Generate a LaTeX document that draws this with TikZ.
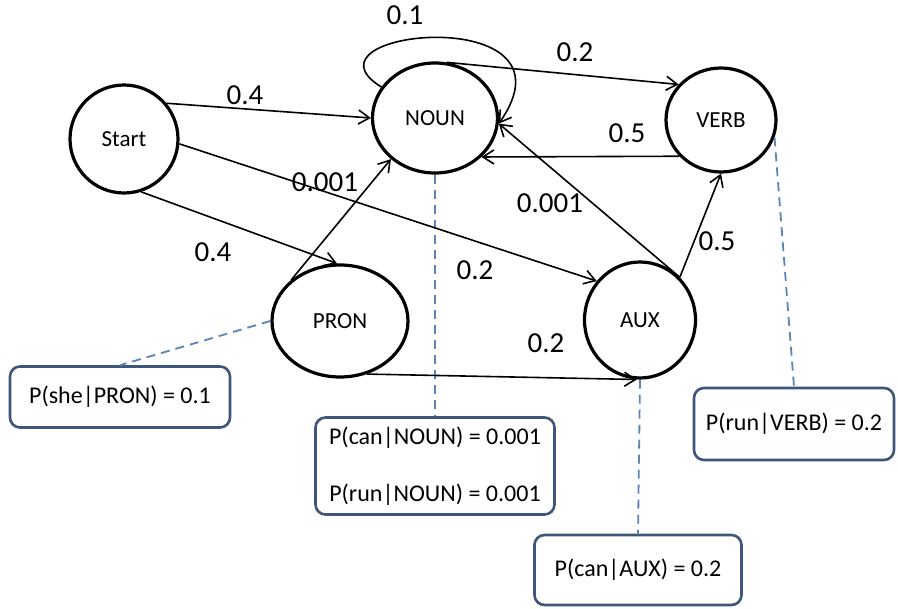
\documentclass[tikz,border=0pt]{standalone}
\usepackage{fontspec}
\setmainfont{Carlito}
\usetikzlibrary{arrows.meta,shapes.geometric}
\definecolor{boxblue}{HTML}{3E5679}
\definecolor{linkblue}{HTML}{5B84B8}

\begin{document}
\begin{tikzpicture}[
  x=1pt,
  y=-1pt,
  state/.style={
    draw,
    ellipse,
    line width=3.2pt,
    inner sep=0pt,
    font=\fontsize{23}{28}\selectfont
  },
  emit/.style={
    draw=boxblue,
    line width=2.6pt,
    rounded corners=10pt,
    inner sep=0pt,
    align=center,
    font=\fontsize{24}{29}\selectfont
  },
  prob/.style={inner sep=0pt,font=\fontsize{29}{34}\selectfont},
  trans/.style={-{Straight Barb[length=11pt,width=14pt]},line width=1.6pt},
  link/.style={draw=linkblue,line width=1.8pt,dash pattern=on 9pt off 6pt}
]
  \useasboundingbox[fill=white] (0,0) rectangle (898,609);

  \node[state,minimum width=108pt,minimum height=108pt] (start) at (124,139) {Start};
  \node[state,minimum width=125pt,minimum height=110pt] (noun) at (435,118) {NOUN};
  \node[state,minimum width=110pt,minimum height=104pt] (verb) at (721,120) {VERB};
  \node[state,minimum width=136pt,minimum height=112pt] (pron) at (340,321) {PRON};
  \node[state,minimum width=111pt,minimum height=116pt] (aux) at (640,320) {AUX};

  \node[emit,minimum width=220pt,minimum height=61pt] (shebox) at (120,397) {P(she|PRON) = 0.1};
  \node[emit,minimum width=239pt,minimum height=97pt] (nounbox) at (435,466)
    {P(can|NOUN) = 0.001\\[28pt]P(run|NOUN) = 0.001};
  \node[emit,minimum width=200pt,minimum height=72pt] (verbbox) at (794,424) {P(run|VERB) = 0.2};
  \node[emit,minimum width=207pt,minimum height=70pt] (auxbox) at (638,570) {P(can|AUX) = 0.2};

  \draw[link] (pron.west) -- (shebox.north);
  \draw[link] (noun.south) -- (nounbox.north);
  \draw[link] (verb.-18) -- (verbbox.north);
  \draw[link] (aux.south) -- (auxbox.north);

  \draw[trans] (start.40) -- (noun.west);
  \draw[trans] (start.-5) -- (aux.138);
  \draw[trans] (start.-72) -- (pron.93);
  \draw[trans] (pron.140) -- (noun.223);
  \draw[trans] (pron.-63) -- (aux.-93);
  \draw[trans] (aux.47) -- (noun.-5);
  \draw[trans] (aux.47) -- (verb.south);
  \draw[trans] (noun.78) -- (verb.140);
  \draw[trans] (verb.-139) -- (noun.-40);
  \draw[trans] (noun.150) .. controls (290,30) and (585,0) .. (noun.-5);

  \node[prob] (p-sn) at (245,95) {0.4};
  \node[prob] (p-nn) at (405,15) {0.1};
  \node[prob] (p-nv) at (575,52) {0.2};
  \node[prob] (p-vn) at (627,133) {0.5};
  \node[prob] (p-pn) at (325,182) {0.001};
  \node[prob] (p-an) at (550,203) {0.001};
  \node[prob] (p-av) at (717,241) {0.5};
  \node[prob] (p-sp) at (213,252) {0.4};
  \node[prob] (p-sa) at (475,270) {0.2};
  \node[prob] (p-pa) at (546,343) {0.2};
\end{tikzpicture}
\end{document}
